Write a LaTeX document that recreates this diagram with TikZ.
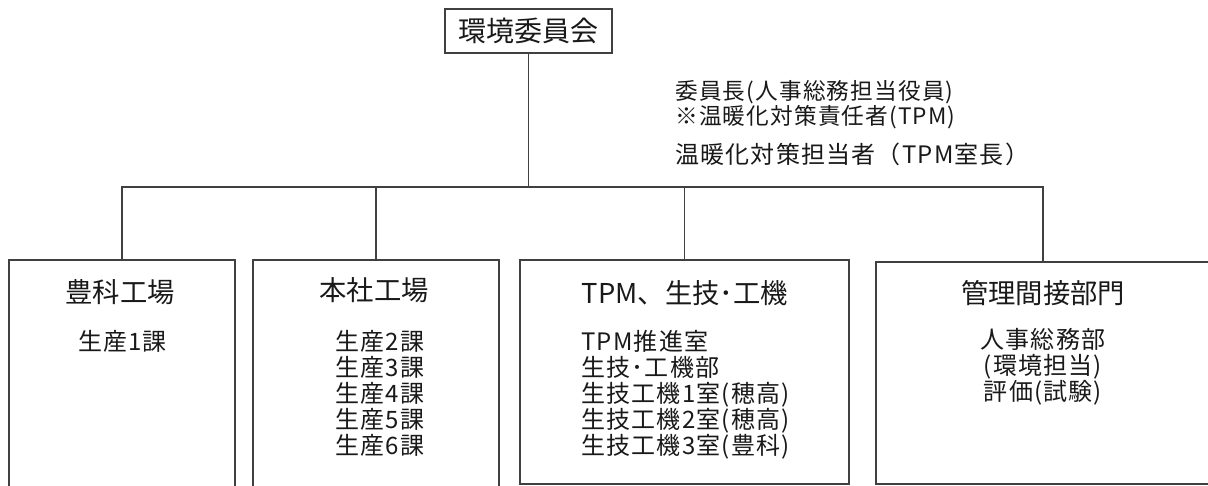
\documentclass[tikz,border=0pt]{standalone}
\usepackage{fontspec}
\setmainfont{Noto Sans CJK JP}
\newfontfamily\jpspaced[LetterSpace=5]{Noto Sans CJK JP}
\usepackage{tikz}
\usetikzlibrary{positioning}

\definecolor{linegray}{RGB}{64,64,64}
\definecolor{txtgray}{RGB}{25,25,25}

\begin{document}
\begin{tikzpicture}[x=0.75pt,y=0.75pt,yscale=-1,xscale=1,
  unitbox/.style={draw=linegray, line width=1.1pt, inner sep=0pt},
  link/.style={draw=linegray, line width=1.1pt},
  head/.style={inner sep=0pt, text=txtgray, font=\fontsize{20.5}{24}\selectfont},
  items/.style={inner sep=0pt, text=txtgray, font=\jpspaced\fontsize{18}{19.5}\selectfont},
  note/.style={inner sep=0pt, text=txtgray, anchor=north west}]
\useasboundingbox (0,0) rectangle (1208,486);
\clip (0,0) rectangle (1208,486);

% Committee
\node [unitbox, minimum width=125.25pt, minimum height=33pt, text=txtgray, font=\fontsize{21}{24}\selectfont] (iinkai) at (528.5,31) {環境委員会};
\coordinate (bus) at (528.5,187);

% Text Node
\node [note, align=left, font=\jpspaced\fontsize{17}{17.25}\selectfont] (chair) at (675,80.5) {委員長(人事総務担当役員)\\※温暖化対策責任者(TPM)};
% Text Node
\node [note, font=\jpspaced\fontsize{18}{20}\selectfont] (tanto) at (675,143) {温暖化対策担当者（TPM室長）};

% Unit boxes
\node [unitbox, minimum width=169.5pt, minimum height=180pt] (toyoshina) at (122,380) {};
\node [unitbox, minimum width=184.5pt, minimum height=180pt] (honsha) at (376,380) {};
\node [unitbox, minimum width=246.75pt, minimum height=168pt] (tpm) at (684.5,372) {};
\node [unitbox, minimum width=250.5pt, minimum height=166.5pt] (kanri) at (1043,373) {};

%Straight Lines
\draw [link] (iinkai.south) -- (bus);
\draw [link] (toyoshina.north) |- (bus) -| (kanri.north);
\draw [link] (bus) -| (honsha.north);
\draw [link] (bus) -| (tpm.north);

% Headings
\node [head] (h1) at (120,292) {豊科工場};
\node [head] (h2) at (374,290) {本社工場};
\node [head] (h3) at (685,293) {TPM、生技･工機};
\node [head] (h4) at (1043,293) {管理間接部門};

% Sections
\node [items, anchor=north, align=center] (l1) at (122.5,330) {生産1課};
\node [items, anchor=north, align=center] (l2) at (380,330) {生産2課\\生産3課\\生産4課\\生産5課\\生産6課};
\node [items, anchor=north west, align=left] (l3) at (581,330) {TPM推進室\\生技･工機部\\生技工機1室(穂高)\\生技工機2室(穂高)\\生技工機3室(豊科)};
\node [items, anchor=north, align=center] (l4) at (1043,328) {人事総務部\\(環境担当)\\評価(試験)};
\end{tikzpicture}
\end{document}
